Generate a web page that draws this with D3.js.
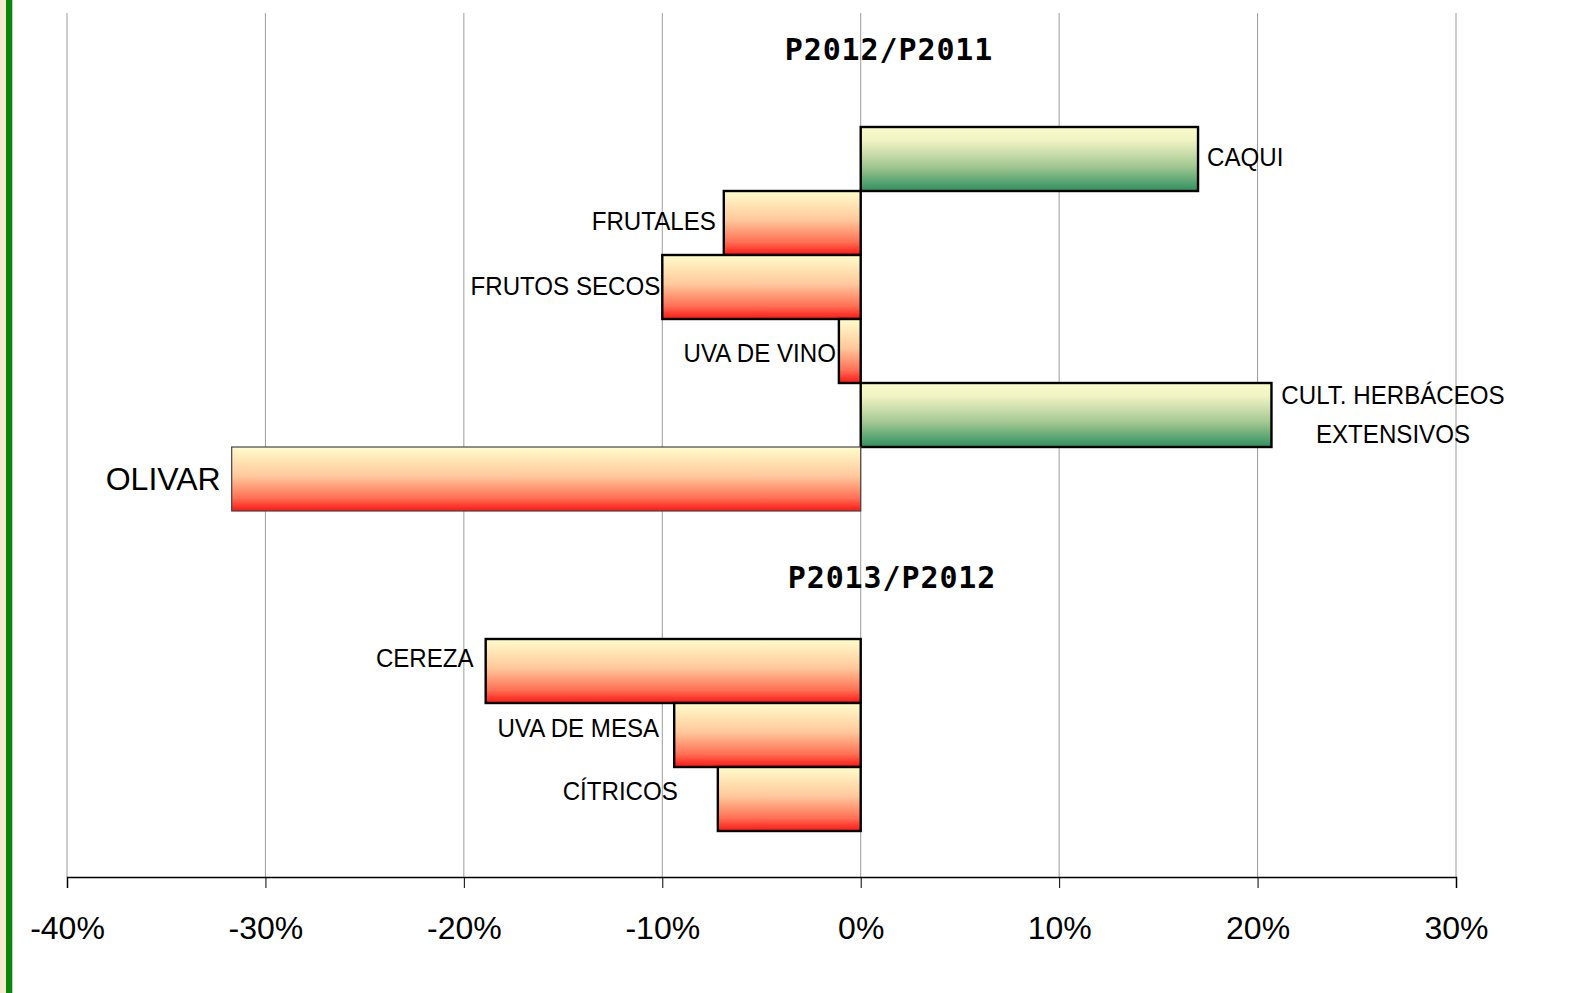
<!DOCTYPE html>
<html>
<head>
<meta charset="utf-8">
<script src="https://cdn.jsdelivr.net/npm/d3@7"></script>
<style>
  body { margin: 0; background: #fff; }
  svg { display: block; }
  .tick-label { font-family: 'Liberation Sans', Arial, sans-serif; font-size: 32px; }
  .cat-label { font-family: 'Liberation Sans', Arial, sans-serif; font-size: 26.5px; }
  .group-title { font-family: 'DejaVu Sans Mono', monospace; font-weight: bold; font-size: 30px; letter-spacing: 0.9px; }
</style>
</head>
<body>
<div id="chart"></div>
<script>
// data (percent change)
const categories = ['CAQUI', 'FRUTALES', 'FRUTOS SECOS', 'UVA DE VINO', 'CULT. HERBÁCEOS|EXTENSIVOS', 'OLIVAR', 'CEREZA', 'UVA DE MESA', 'CÍTRICOS']
const values = [17.0, -6.9, -10.0, -1.1, 20.7, -31.7, -18.9, -9.4, -7.2]
const groupOf = [0, 0, 0, 0, 0, 0, 1, 1, 1]
const groupTitles = ['P2012/P2011', 'P2013/P2012']
const ticks = [-40, -30, -20, -10, 0, 10, 20, 30]

// label placement tweaks (dx from bar end, dy from bar centre)
const labelGap = [9, 8, 2, 3, 0, 11, 12, 15, 40]
const labelDy = [-2, -2, -1, 2, -1, 0, -13, -7, -8]

const width = 1594,
  height = 993

const svg = d3.select('#chart')
  .append('svg')
  .attr('width', width)
  .attr('height', height)

// left edge decoration
svg.append('rect').attr('x', 0).attr('y', 0).attr('width', 6).attr('height', height).style('fill', '#f7ebcf')
svg.append('rect').attr('x', 6).attr('y', 0).attr('width', 6.3).attr('height', height).style('fill', '#0b860b')

const x = d3.scaleLinear()
  .domain([-40, 30])
  .range([67, 1456])

// rows: group 1, two empty rows, group 2
const rows = []
categories.forEach((c, i) => {
  if (i > 0 && groupOf[i] !== groupOf[i - 1]) rows.push('gap-a', 'gap-b')
  rows.push(c)
})
const y = d3.scaleBand()
  .domain(rows)
  .range([127, 831])
  .padding(0)

const plotTop = 13,
  axisY = 877

const defs = svg.append('defs')
const negGrad = defs.append('linearGradient').attr('id', 'neg').attr('x1', 0).attr('y1', 0).attr('x2', 0).attr('y2', 1)
negGrad.append('stop').attr('offset', '0%').attr('stop-color', '#fffdcc')
negGrad.append('stop').attr('offset', '45%').attr('stop-color', '#ffc99c')
negGrad.append('stop').attr('offset', '80%').attr('stop-color', '#ff6f55')
negGrad.append('stop').attr('offset', '100%').attr('stop-color', '#ff1612')
const posGrad = defs.append('linearGradient').attr('id', 'pos').attr('x1', 0).attr('y1', 0).attr('x2', 0).attr('y2', 1)
posGrad.append('stop').attr('offset', '0%').attr('stop-color', '#fbfbcb')
posGrad.append('stop').attr('offset', '20%').attr('stop-color', '#f2f4c4')
posGrad.append('stop').attr('offset', '60%').attr('stop-color', '#a6c994')
posGrad.append('stop').attr('offset', '100%').attr('stop-color', '#2f9060')

// gridlines
svg.append('g')
  .selectAll('line')
  .data(ticks)
  .enter()
  .append('line')
  .attr('x1', (d) => x(d))
  .attr('x2', (d) => x(d))
  .attr('y1', plotTop)
  .attr('y2', axisY)
  .style('stroke', '#9c9c9c')
  .style('stroke-width', 1)

// bars
svg.append('g')
  .selectAll('rect')
  .data(values)
  .enter()
  .append('rect')
  .attr('x', (d) => x(Math.min(0, d)))
  .attr('y', (d, i) => y(categories[i]))
  .attr('width', (d) => Math.abs(x(d) - x(0)))
  .attr('height', y.bandwidth())
  .style('fill', (d) => d < 0 ? 'url(#neg)' : 'url(#pos)')
  .style('stroke', (d, i) => categories[i] === 'OLIVAR' ? '#444' : '#000')
  .style('stroke-width', (d, i) => categories[i] === 'OLIVAR' ? 1.2 : 2.4)

// category labels
categories.forEach((c, i) => {
  const v = values[i]
  const cy = y(c) + y.bandwidth() / 2 + labelDy[i]
  const lines = c.split('|')
  if (lines.length > 1) {
    // two-line label, centred
    const cx = 1393
    lines.forEach((t, j) => {
      svg.append('text')
        .attr('class', 'cat-label')
        .attr('text-anchor', 'middle')
        .attr('transform', 'translate(' + cx + ',' + (cy + (j - 0.5) * 39.4) + ') scale(0.91,1)')
        .attr('dy', '0.35em')
        .text(t)
    })
    return
  }
  const big = c === 'OLIVAR'
  const lx = v < 0 ? x(v) - labelGap[i] : x(v) + labelGap[i]
  svg.append('text')
    .attr('class', 'cat-label')
    .attr('text-anchor', v < 0 ? 'end' : 'start')
    .attr('transform', 'translate(' + lx + ',' + cy + ')' + (big ? '' : ' scale(0.91,1)'))
    .attr('dy', '0.35em')
    .style('font-size', big ? '32px' : null)
    .text(c)
})

// group titles
svg.append('text')
  .attr('class', 'group-title')
  .attr('text-anchor', 'middle')
  .attr('x', 889)
  .attr('y', y(rows[0]) - 67)
  .text(groupTitles[0])
svg.append('text')
  .attr('class', 'group-title')
  .attr('text-anchor', 'middle')
  .attr('x', 892)
  .attr('y', y('gap-b') + 13)
  .text(groupTitles[1])

// x axis
const xAxis = svg.append('g')
  .attr('transform', 'translate(0,' + axisY + ')')
  .call(d3.axisBottom(x).tickValues(ticks).tickSize(11).tickPadding(0).tickFormat((d) => d + '%'))
xAxis.select('.domain').style('stroke', '#000').style('stroke-width', 1.5)
xAxis.selectAll('.tick line').style('stroke', '#000').style('stroke-width', 1)
xAxis.selectAll('.tick text')
  .attr('class', 'tick-label')
  .attr('y', 62)
  .attr('dy', 0)
xAxis.attr('font-family', null).attr('font-size', null)
</script>
</body>
</html>
